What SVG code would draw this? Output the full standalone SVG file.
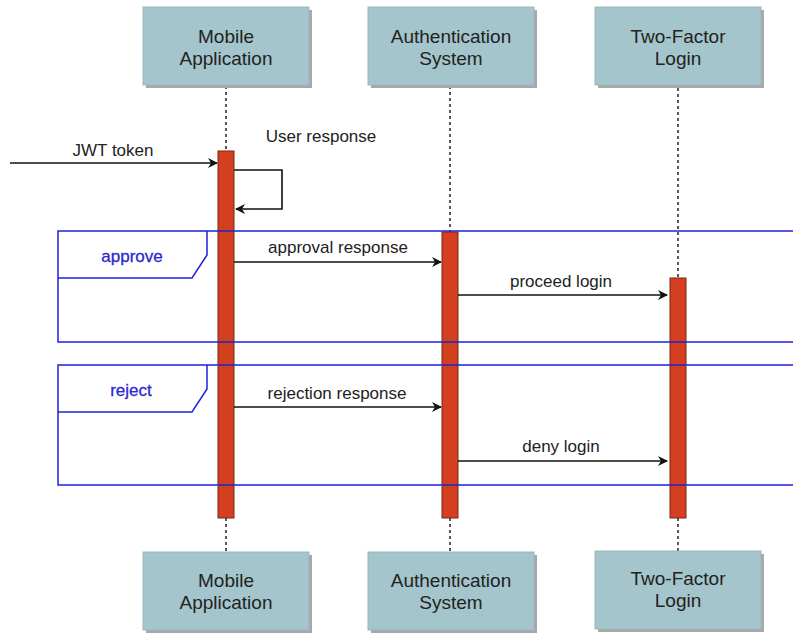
<svg xmlns="http://www.w3.org/2000/svg" width="793" height="635" viewBox="0 0 793 635">
<defs>
<style>
.box{fill:#a4c5cb;stroke:#9ab8be;stroke-width:1}
.shadow{fill:#a8a8a8}
.nt{font-family:"Liberation Sans",Arial,sans-serif;font-size:19px;fill:#222;text-anchor:middle}
.lt{font-family:"Liberation Sans",Arial,sans-serif;font-size:17px;fill:#222;text-anchor:middle}
.ft{font-family:"Liberation Sans",Arial,sans-serif;font-size:17px;fill:#2a2ad0;stroke:#2a2ad0;stroke-width:0.3;text-anchor:middle}
.life{stroke:#222;stroke-width:1.5;stroke-dasharray:3,3;fill:none}
.bar{fill:#d2401f;stroke:#7a2414;stroke-width:1}
.msg{stroke:#111;stroke-width:1.6;fill:none;marker-end:url(#ah)}
.frame{fill:none;stroke:#2020e0;stroke-width:1.5}
</style>
<marker id="ah" viewBox="0 0 10 10" refX="9" refY="5" markerWidth="10" markerHeight="10" markerUnits="userSpaceOnUse" orient="auto">
<path d="M0,0 L10,5 L0,10 L3,5 Z" fill="#111"/>
</marker>
</defs>
<rect width="793" height="635" fill="#ffffff"/>

<g id="lifelines">
<line class="life" x1="226" y1="86" x2="226" y2="151"/>
<line class="life" x1="226" y1="518" x2="226" y2="552"/>
<line class="life" x1="450" y1="86" x2="450" y2="232"/>
<line class="life" x1="450" y1="518" x2="450" y2="552"/>
<line class="life" x1="678" y1="88" x2="678" y2="278"/>
<line class="life" x1="678" y1="518" x2="678" y2="551"/>
</g>

<g id="node-mobile-top">
<rect class="shadow" x="146" y="10" width="166" height="78"/>
<rect class="box" x="143" y="7" width="166" height="78"/>
<text class="nt" x="226" y="43">Mobile</text>
<text class="nt" x="226" y="65">Application</text>
</g>
<g id="node-auth-top">
<rect class="shadow" x="371" y="10" width="166" height="78"/>
<rect class="box" x="368" y="7" width="166" height="78"/>
<text class="nt" x="451" y="43">Authentication</text>
<text class="nt" x="451" y="65">System</text>
</g>
<g id="node-2fa-top">
<rect class="shadow" x="598" y="10" width="166" height="78"/>
<rect class="box" x="595" y="7" width="166" height="78"/>
<text class="nt" x="678" y="43">Two-Factor</text>
<text class="nt" x="678" y="65">Login</text>
</g>

<g id="node-mobile-bottom">
<rect class="shadow" x="146" y="555" width="166" height="78"/>
<rect class="box" x="143" y="552" width="166" height="78"/>
<text class="nt" x="226" y="587">Mobile</text>
<text class="nt" x="226" y="609">Application</text>
</g>
<g id="node-auth-bottom">
<rect class="shadow" x="371" y="555" width="166" height="78"/>
<rect class="box" x="368" y="552" width="166" height="78"/>
<text class="nt" x="451" y="587">Authentication</text>
<text class="nt" x="451" y="609">System</text>
</g>
<g id="node-2fa-bottom">
<rect class="shadow" x="598" y="554" width="166" height="78"/>
<rect class="box" x="595" y="551" width="166" height="78"/>
<text class="nt" x="678" y="585">Two-Factor</text>
<text class="nt" x="678" y="607">Login</text>
</g>

<g id="activations">
<rect class="bar" x="218" y="151" width="16" height="367"/>
<rect class="bar" x="442" y="232" width="16" height="286"/>
<rect class="bar" x="670" y="278" width="16" height="240"/>
</g>

<g id="connectors">
<line class="msg" x1="10" y1="163" x2="217" y2="163"/>
<text class="lt" x="113" y="156">JWT token</text>
<polyline class="msg" points="234,170 282,170 282,209 236,209"/>
<text class="lt" x="321" y="142">User response</text>
<line class="msg" x1="234" y1="262" x2="441" y2="262"/>
<text class="lt" x="338" y="253">approval response</text>
<line class="msg" x1="458" y1="295" x2="667" y2="295"/>
<text class="lt" x="561" y="287">proceed login</text>
<line class="msg" x1="234" y1="407" x2="441" y2="407"/>
<text class="lt" x="337" y="399">rejection response</text>
<line class="msg" x1="458" y1="461" x2="667" y2="461"/>
<text class="lt" x="561" y="452">deny login</text>
</g>

<g id="frame-approve">
<path class="frame" d="M800,231 L58,231 L58,342 L800,342"/>
<path class="frame" d="M58,278 L192,278 L207,255 L207,231"/>
<text class="ft" x="132" y="262">approve</text>
</g>
<g id="frame-reject">
<path class="frame" d="M800,365 L58,365 L58,485 L800,485"/>
<path class="frame" d="M58,412 L192,412 L207,389 L207,365"/>
<text class="ft" x="131" y="396">reject</text>
</g>
</svg>
